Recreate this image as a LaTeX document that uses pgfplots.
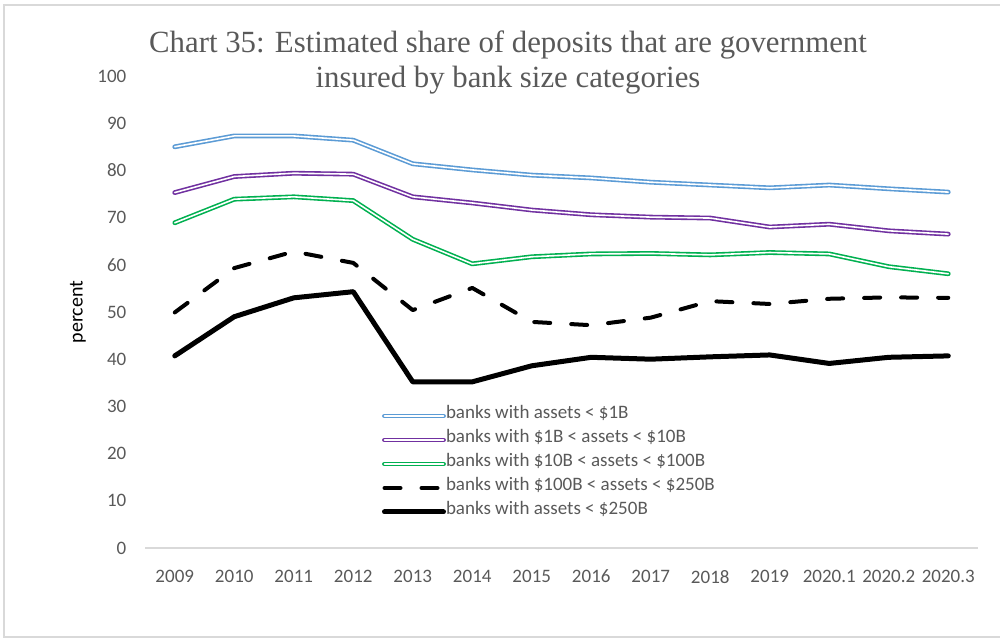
\documentclass[border=0pt]{standalone}
\usepackage{pgfplots}
\pgfplotsset{compat=1.18}
\usepackage{fontspec}
\setmainfont{Carlito}
\newfontfamily\titlefont{Liberation Serif}
\definecolor{cblue}{HTML}{5B9BD5}
\definecolor{cpurple}{HTML}{7030A0}
\definecolor{cgreen}{HTML}{00B050}
\definecolor{txtgray}{HTML}{595959}
\definecolor{linegray}{HTML}{D9D9D9}

\pgfplotstableread{
x  a     b     c     d     e
0  85.0  75.3  68.9  49.9  40.7
1  87.3  78.7  73.9  59.3  49.0
2  87.3  79.4  74.4  62.8  53.0
3  86.4  79.2  73.6  60.4  54.3
4  81.4  74.4  65.4  50.4  35.2
5  80.1  73.1  60.2  55.1  35.2
6  79.0  71.6  61.7  47.9  38.6
7  78.4  70.6  62.3  47.2  40.4
8  77.5  70.1  62.4  48.8  40.0
9  76.9  69.9  62.1  52.3  40.5
10 76.3  68.0  62.6  51.7  40.9
11 76.9  68.6  62.3  52.8  39.1
12 76.1  67.2  59.6  53.1  40.4
13 75.4  66.5  58.1  53.0  40.7
}\data

\begin{document}
\begin{tikzpicture}
\useasboundingbox (-72.5pt,-46.5pt) rectangle (427.5pt,274pt);
\draw[linegray, line width=1pt] (-70.5pt,-44.75pt) rectangle (440pt,271.5pt);
\begin{axis}[
  scale only axis,
  width=416.5pt, height=236pt,
  at={(0pt,0pt)}, anchor=south west,
  xmin=-0.5, xmax=13.5,
  ymin=0, ymax=100,
  xtick=data,
  xticklabels={2009,2010,2011,2012,2013,2014,2015,2016,2017,2018,2019,2020.1,2020.2,2020.3},
  ytick={0,10,...,100},
  axis x line*=bottom,
  axis y line*=left,
  x axis line style={draw=linegray, line width=0.75pt, -},
  y axis line style={draw=none},
  major tick length=0pt,
  tick style={draw=none},
  /pgf/number format/assume math mode=true,
  ticklabel style={font=\fontsize{9.5}{11}\selectfont, text=txtgray},
  yticklabel style={xshift=-5.8pt},
  xticklabel style={yshift=-7.5pt},
  ylabel={percent},
  ylabel style={font=\fontsize{9.5}{11}\selectfont, text=txtgray},
  every axis y label/.style={at={(-33.5pt,118pt)}, rotate=90, anchor=center},
  clip=false,
  legend cell align=left,
  legend style={draw=none, fill=none, at={(118.5pt,72pt)}, anchor=north west,
    font=\fontsize{9.5}{11}\selectfont, text=txtgray, inner sep=0pt, outer sep=0pt,
    row sep=0pt,
    nodes={inner sep=0pt, text height=7.5pt, text depth=4.5pt},
    /tikz/every even column/.append style={column sep=3pt}},
  legend image code/.code={\draw[#1] (0pt,0pt) -- (29.5pt,0pt);},
]
\addplot[cblue, line width=0.8pt, double=white, double distance=0.8pt, line join=round, line cap=round] table[x=x,y=a] {\data};
\addlegendentry{banks with assets < \$1B}
\addplot[cpurple, line width=0.8pt, double=white, double distance=0.8pt, line join=round, line cap=round] table[x=x,y=b] {\data};
\addlegendentry{banks with \$1B < assets < \$10B}
\addplot[cgreen, line width=0.8pt, double=white, double distance=0.8pt, line join=round, line cap=round] table[x=x,y=c] {\data};
\addlegendentry{banks with \$10B < assets < \$100B}
\addplot[black, line width=2pt, line cap=round, line join=round, dash pattern=on 8pt off 10.5pt] table[x=x,y=d] {\data};
\addlegendentry{banks with \$100B < assets < \$250B}
\addplot[black, line width=2.5pt, line cap=round, line join=round] table[x=x,y=e] {\data};
\addlegendentry{banks with assets < \$250B}
\end{axis}
\node[font=\titlefont\fontsize{15.4}{17.5}\selectfont, text=txtgray, align=center] at (181.5pt,242.75pt)
  {Chart 35: Estimated share of deposits that are government\\insured by bank size categories};
\end{tikzpicture}
\end{document}
